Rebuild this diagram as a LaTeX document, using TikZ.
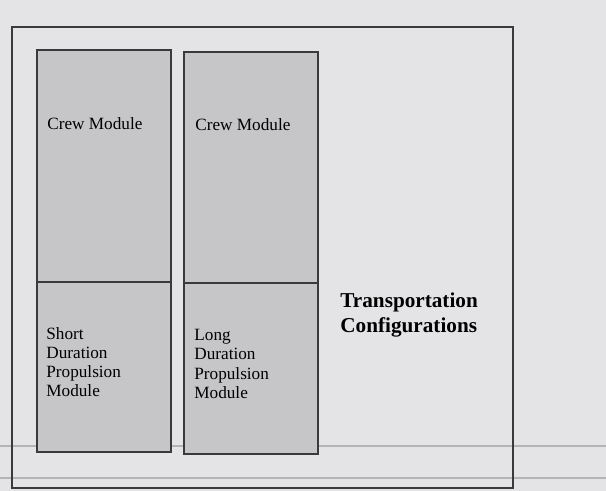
\documentclass[tikz,border=0pt]{standalone}
\usepackage{fontspec}
\setmainfont{Liberation Serif}
\usepackage{xcolor}
\definecolor{PaperGray}{HTML}{E4E4E7}
\definecolor{ModuleGray}{HTML}{C6C6C8}
\definecolor{RuleGray}{HTML}{B4B4B8}
\definecolor{FrameGray}{HTML}{3A3A3A}

\tikzset{
  module/.style={draw=FrameGray,line width=1pt,fill=ModuleGray},
  modlabel/.style={anchor=north west,inner sep=0pt,align=left,
    font=\fontsize{8.6}{9.6}\selectfont},
  title/.style={anchor=north west,inner sep=0pt,align=left,
    font=\fontsize{10.6}{12.5}\selectfont\bfseries}
}

\begin{document}
\begin{tikzpicture}[x=0.5pt,y=-0.5pt]
    % paper and scan rules
    \fill[PaperGray] (0,0) rectangle (606,491);
    \useasboundingbox (0,0) rectangle (606,491);
    \draw[RuleGray,line width=0.6pt] (0,446) -- (606,446);
    \draw[RuleGray,line width=0.6pt] (0,478) -- (606,478);

    % outer frame
    \draw[FrameGray,line width=0.8pt] (12,27) rectangle (513,488);

    % left stack
    \draw[module] (37,50) rectangle (171,282);
    \draw[module] (37,282) rectangle (171,452);
    % right stack
    \draw[module] (184,52) rectangle (318,283);
    \draw[module] (184,283) rectangle (318,454);

    \node[modlabel] (crewA) at (47,117) {Crew Module};
    \node[modlabel] (crewB) at (195,118) {Crew Module};
    \node[modlabel] (shortProp) at (46,327)
        {Short\\Duration\\Propulsion\\Module};
    \node[modlabel] (longProp) at (194,329)
        {Long\\Duration\\Propulsion\\Module};
    \node[title] (transport) at (340,292)
        {Transportation\\Configurations};
\end{tikzpicture}
\end{document}
